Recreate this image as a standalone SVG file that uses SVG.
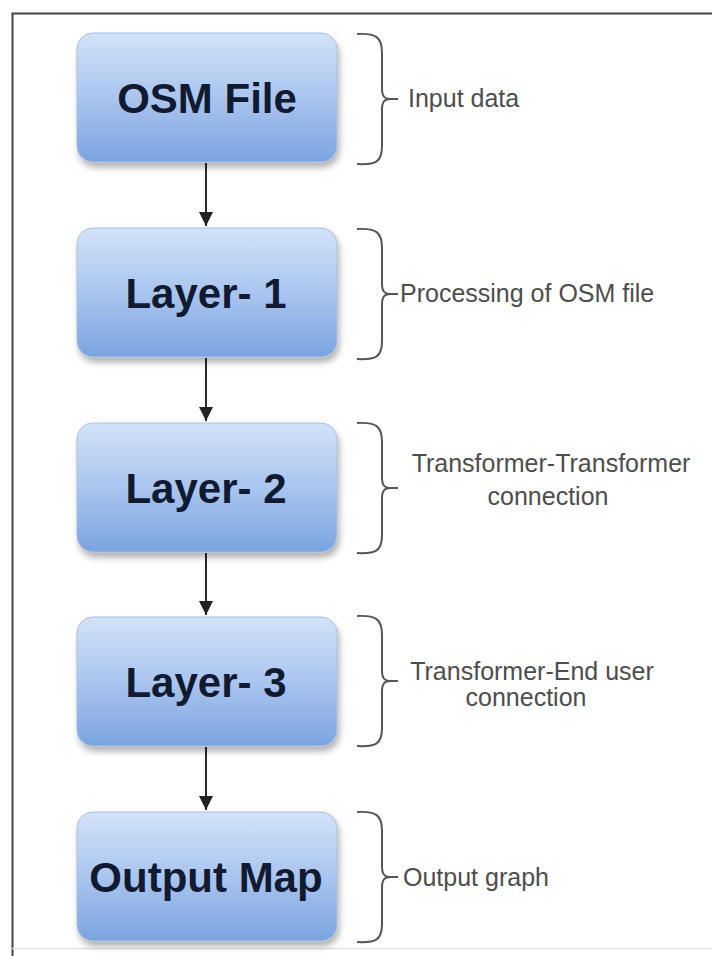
<svg xmlns="http://www.w3.org/2000/svg" width="712" height="956" viewBox="0 0 712 956">
<defs>
<linearGradient id="boxGrad" x1="0" y1="0" x2="0" y2="1">
<stop offset="0" stop-color="#d3e3f8"/>
<stop offset="0.5" stop-color="#aac5ef"/>
<stop offset="1" stop-color="#7aa4e0"/>
</linearGradient>
<filter id="shadow" x="-10%" y="-10%" width="125%" height="130%">
<feDropShadow dx="2" dy="5" stdDeviation="3" flood-color="#000" flood-opacity="0.3"/>
</filter>
<marker id="arrow" viewBox="0 0 10 10" refX="10" refY="5" markerWidth="7" markerHeight="7" markerUnits="strokeWidth" orient="auto">
<path d="M0,0 L10,5 L0,10 Z" fill="#222"/>
</marker>
<path id="brace" d="M357,1 C376,0 382,4 382,20 L382,55 C382,63 384,66 391,66 L398,66 M391,66 C384,66 382,69 382,77 L382,113 C382,129 376,132 357,131"/>
</defs>
<style>
.box{fill:url(#boxGrad);stroke:#a9bfe0;stroke-width:1;filter:url(#shadow)}
.lbl{font-family:"Liberation Sans",Arial,sans-serif;font-weight:bold;font-size:42px;fill:#101a30;text-anchor:middle}
.side{font-family:"Liberation Sans",Arial,sans-serif;font-size:25px;fill:#4d4d4d}
.brace{fill:none;stroke:#555;stroke-width:2}
.conn{stroke:#2a2a2a;stroke-width:2;fill:none}
</style>
<rect x="0" y="0" width="712" height="956" fill="#fff"/>
<path d="M12.5,956 L12.5,13.5 L712,13.5" fill="none" stroke="#444" stroke-width="2"/>
<line x1="12" y1="948.5" x2="712" y2="948.5" stroke="#e2e2e2" stroke-width="1.5"/>

<g id="connectors">
<line class="conn" x1="206" y1="163" x2="206" y2="226" marker-end="url(#arrow)"/>
<line class="conn" x1="206" y1="358" x2="206" y2="421" marker-end="url(#arrow)"/>
<line class="conn" x1="206" y1="553" x2="206" y2="615" marker-end="url(#arrow)"/>
<line class="conn" x1="206" y1="747" x2="206" y2="810" marker-end="url(#arrow)"/>
</g>

<g id="osm-file">
<rect class="box" x="77" y="33" width="260" height="129" rx="16"/>
<text class="lbl" x="207" y="113">OSM File</text>
</g>
<g id="layer-1">
<rect class="box" x="77" y="228" width="260" height="129" rx="16"/>
<text class="lbl" x="206" y="308">Layer- 1</text>
</g>
<g id="layer-2">
<rect class="box" x="77" y="423" width="260" height="129" rx="16"/>
<text class="lbl" x="206" y="503">Layer- 2</text>
</g>
<g id="layer-3">
<rect class="box" x="77" y="617" width="260" height="129" rx="16"/>
<text class="lbl" x="206" y="697">Layer- 3</text>
</g>
<g id="output-map">
<rect class="box" x="77" y="812" width="260" height="129" rx="16"/>
<text class="lbl" x="206" y="892">Output Map</text>
</g>

<g id="note-input">
<use href="#brace" class="brace" transform="translate(0,33)"/>
<text class="side" x="408" y="107">Input data</text>
</g>
<g id="note-processing">
<use href="#brace" class="brace" transform="translate(0,228)"/>
<text class="side" x="400" y="302">Processing of OSM file</text>
</g>
<g id="note-tt">
<use href="#brace" class="brace" transform="translate(0,422)"/>
<text class="side" x="551" y="472" text-anchor="middle">Transformer-Transformer</text>
<text class="side" x="548" y="505" text-anchor="middle">connection</text>
</g>
<g id="note-te">
<use href="#brace" class="brace" transform="translate(0,615)"/>
<text class="side" x="532" y="680" text-anchor="middle">Transformer-End user</text>
<text class="side" x="526" y="706" text-anchor="middle">connection</text>
</g>
<g id="note-output">
<use href="#brace" class="brace" transform="translate(0,811)"/>
<text class="side" x="403" y="886">Output graph</text>
</g>
</svg>
